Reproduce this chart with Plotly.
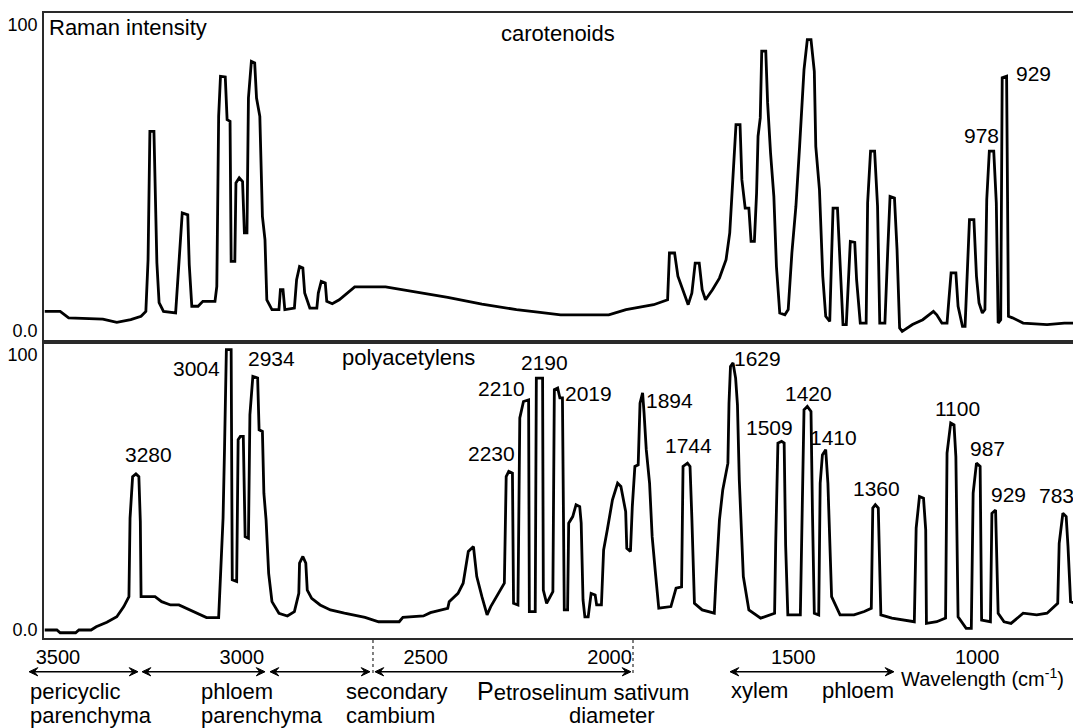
import plotly.graph_objects as go

# ---------------- data (wavenumber cm-1, relative Raman intensity) ----------------
top_wn = [3536, 3494, 3471, 3378, 3340, 3302, 3274, 3261, 3255, 3250,
          3239, 3231, 3225, 3213, 3180, 3171, 3162, 3147, 3143, 3136,
          3119, 3106, 3073, 3068, 3063, 3058, 3045, 3040, 3032, 3029,
          3019, 3016, 3007, 2998, 2993, 2986, 2982, 2974, 2965, 2960,
          2951, 2944, 2937, 2932, 2918, 2899, 2895, 2888, 2883, 2857,
          2851, 2843, 2834, 2829, 2815, 2796, 2792, 2784, 2773, 2769,
          2754, 2735, 2693, 2609, 2534, 2440, 2347, 2253, 2189, 2133,
          2002, 1955, 1880, 1842, 1837, 1823, 1814, 1786, 1776, 1767,
          1756, 1748, 1739, 1720, 1701, 1683, 1673, 1664, 1656, 1645,
          1640, 1631, 1621, 1615, 1606, 1600, 1596, 1590, 1586, 1575,
          1570, 1562, 1553, 1546, 1537, 1523, 1514, 1504, 1493, 1483,
          1471, 1462, 1452, 1443, 1439, 1429, 1420, 1412, 1401, 1396,
          1392, 1380, 1373, 1365, 1356, 1351, 1345, 1333, 1328, 1318,
          1302, 1298, 1290, 1279, 1271, 1265, 1251, 1243, 1237, 1225,
          1218, 1211, 1204, 1176, 1148, 1119, 1110, 1096, 1082, 1077,
          1071, 1058, 1052, 1040, 1033, 1027, 1021, 1009, 1002, 995,
          986, 979, 974, 967, 955, 948, 943, 936, 932, 920,
          915, 904, 875, 810, 763, 734]
top_int = [6.2, 6.2, 4.1, 3.7, 2.6, 3.5, 4.6, 6.2, 23.1, 65.1,
           65.1, 22.1, 9.1, 6.2, 5.7, 23.1, 38.4, 37.8, 21.5, 7.9,
           7.9, 9.5, 9.5, 14.4, 70, 83.1, 82.9, 68.9, 68.4, 22.6,
           22.6, 48.2, 49.9, 48.7, 31.9, 31.9, 76, 88, 87.5, 76,
           70, 37.3, 29.7, 10, 6.8, 6.8, 13.3, 13.3, 6.8, 7.3,
           16.6, 20.9, 20.4, 12.2, 7.3, 7.3, 12.2, 16, 15.5, 9.5,
           8.7, 10, 14.2, 14.2, 12.8, 10.8, 8.6, 6.8, 5.9, 5.1,
           5.1, 6.8, 8.4, 10, 25.3, 25.3, 17.7, 8.4, 12.2, 22,
           22, 13.3, 10, 13.3, 17.1, 23.1, 31.9, 49.3, 67.3, 67.3,
           49.3, 40, 40, 29.1, 29.1, 44.9, 63.5, 69.5, 91.3, 91.3,
           74.4, 58, 43.8, 20.9, 5.7, 5.1, 6.8, 25.3, 40.6, 60.2,
           85.3, 95.1, 95.1, 84.7, 60.2, 46, 17.7, 4.6, 2.9, 24.2,
           40, 40, 23.7, 1.9, 1.9, 16, 29.1, 28.8, 16.6, 2.4,
           2.4, 41.7, 58.6, 58.6, 40.6, 2.4, 2.4, 27, 43.8, 43.3,
           26.4, 0.8, -0.3, 1.9, 3.5, 6.2, 5.1, 2.4, 2.4, 10,
           18.8, 18.8, 7.9, 1.3, 1.3, 18.8, 36.2, 36.2, 17.7, 9,
           5.7, 6.8, 42.8, 58.6, 58.6, 41.7, 2.4, 3.5, 82.6, 83.1,
           4.6, 4.1, 2.4, 1.9, 2.4, 2.4]

bot_wn = [3536, 3503, 3494, 3452, 3443, 3410, 3396, 3367, 3340, 3321,
          3307, 3304, 3297, 3288, 3280, 3276, 3274, 3236, 3218, 3194,
          3171, 3134, 3096, 3063, 3059, 3051, 3047, 3042, 3029, 3026,
          3014, 3010, 3004, 2996, 2991, 2982, 2978, 2970, 2957, 2953,
          2944, 2940, 2934, 2927, 2918, 2899, 2876, 2857, 2845, 2843,
          2834, 2826, 2822, 2810, 2787, 2759, 2721, 2665, 2628, 2572,
          2562, 2506, 2487, 2440, 2436, 2412, 2398, 2384, 2370, 2361,
          2347, 2333, 2323, 2305, 2286, 2281, 2274, 2264, 2261, 2249,
          2244, 2234, 2220, 2218, 2202, 2199, 2189, 2182, 2180, 2171,
          2154, 2150, 2141, 2135, 2128, 2123, 2114, 2111, 2100, 2091,
          2081, 2077, 2072, 2067, 2058, 2050, 2039, 2035, 2022, 2016,
          2006, 1992, 1978, 1969, 1956, 1953, 1943, 1938, 1931, 1922,
          1917, 1910, 1906, 1900, 1891, 1884, 1875, 1866, 1833, 1819,
          1804, 1800, 1788, 1781, 1776, 1769, 1748, 1715, 1711, 1701,
          1692, 1678, 1675, 1671, 1664, 1657, 1652, 1647, 1636, 1621,
          1589, 1560, 1551, 1548, 1542, 1532, 1525, 1521, 1515, 1481,
          1476, 1471, 1462, 1452, 1448, 1443, 1431, 1427, 1421, 1412,
          1406, 1396, 1373, 1335, 1307, 1288, 1284, 1277, 1269, 1262,
          1232, 1171, 1166, 1157, 1146, 1140, 1138, 1110, 1086, 1082,
          1072, 1063, 1058, 1052, 1030, 1016, 1011, 1002, 992, 988,
          964, 960, 950, 943, 927, 908, 875, 838, 810, 781,
          777, 767, 758, 753, 746, 734]
bot_int = [0, 0, -1, -1, 0, 0, 1.2, 2.8, 4.8, 8.5,
           12.1, 40.6, 55.7, 56.7, 55.7, 39.4, 12.1, 12.1, 10.3, 9.1,
           9.1, 6.7, 4.5, 4.5, 15.2, 40.6, 66.1, 101.8, 101.8, 18.2,
           17.6, 69.1, 70.3, 70.3, 33.9, 33.3, 78.2, 92.1, 91.5, 72.7,
           72.1, 49.7, 40, 20.6, 10.3, 6.1, 5.1, 6.7, 13.3, 24.3,
           26.7, 24.3, 14.5, 11.5, 9.1, 7.3, 6.1, 4.6, 3, 3,
           4.6, 5.1, 6.3, 7.9, 10.3, 13.3, 17, 28.5, 30.3, 19.4,
           12.1, 5.5, 8.5, 12.7, 17, 55.7, 57.6, 57, 9.7, 9.1,
           77, 83, 83.6, 6.7, 6.7, 91.5, 91.5, 91.5, 14.5, 9.7,
           13.9, 87.3, 87.9, 84.3, 84.3, 7.3, 7.3, 38.8, 41.2, 45.5,
           44.8, 38.8, 10.9, 4.8, 4.8, 13.3, 12.7, 9.1, 9.1, 29.1,
           36.4, 47.3, 53.3, 52.1, 43, 29.7, 28.5, 44.8, 59.4, 60,
           82.4, 86.1, 78.8, 65.5, 53.3, 33.9, 20.6, 7.9, 8.5, 15.2,
           15.7, 59.4, 60.6, 59.4, 40.6, 9.7, 7.3, 6.1, 17, 40,
           50.9, 60.6, 82.4, 95.7, 97, 91.5, 81.8, 54.5, 19.4, 7.3,
           4.3, 5.5, 6.1, 31.5, 67.9, 68.5, 67.9, 30.9, 5.5, 5.5,
           42.4, 80, 81.2, 79.4, 42.4, 6.1, 5.5, 53.3, 63.6, 65.5,
           53.3, 12.1, 5.5, 5.5, 6.7, 7.9, 44.3, 45.5, 44.3, 5.5,
           4.3, 3, 37, 48.5, 47.9, 36.4, 2.4, 3, 4.3, 64.3,
           75.2, 74.5, 63, 4.8, 0.6, 0.6, 49.7, 60.6, 59.4, 3.6,
           3, 42.4, 43.6, 6.1, 3, 2.4, 6.1, 5.5, 6.1, 9.7,
           31.5, 42.4, 41.2, 30.3, 10.3, 9.7]

assert len(top_wn) == len(top_int), (len(top_wn), len(top_int))
assert len(bot_wn) == len(bot_int), (len(bot_wn), len(bot_int))

# peak labels (text, label position in wavenumber / intensity)
top_peak_text = ["978", "929"]
top_peak_wn = [988, 846]
top_peak_int = [63.7, 84]

bot_peak_text = ["3280", "3004", "2934", "2230", "2210", "2190", "2019", "1894", "1744",
                 "1629", "1509", "1420", "1410", "1360", "1100", "987", "929", "783"]
bot_peak_wn = [3255, 3122, 2918, 2322, 2295, 2177, 2057, 1836, 1784,
               1598, 1565, 1458, 1390, 1273, 1054, 973, 916, 784]
bot_peak_int = [63.6, 94.9, 98.5, 64, 87.6, 97.1, 85.8, 83.3, 66.9,
                98.5, 73.6, 85.8, 70, 51.3, 80.4, 65.8, 49.1, 48.7]

x_ticks = [3500, 3000, 2500, 2000, 1500, 1000]
y_ticks = [0, 100]
y_ticktext = ["0.0", "100"]

# ---------------- figure ----------------
# the page body adds an 8 px offset, so the figure is 8 px smaller than the window
FONT = "Liberation Sans, Arial, sans-serif"
LINE = dict(color="black", width=2.8)
FRAME = "#2a2a2a"

fig = go.Figure()
fig.add_trace(go.Scatter(x=top_wn, y=top_int, mode="lines", line=LINE,
                         xaxis="x", yaxis="y", showlegend=False, hoverinfo="skip"))
fig.add_trace(go.Scatter(x=bot_wn, y=bot_int, mode="lines", line=LINE,
                         xaxis="x2", yaxis="y2", showlegend=False, hoverinfo="skip"))

XR = [3538, 734]
split = 296 / 625

axis_common = dict(showline=True, mirror=True, linecolor=FRAME, linewidth=1.5,
                   showgrid=False, zeroline=False, ticks="", automargin=False)

fig.update_layout(
    width=1073, height=720,
    margin=dict(l=36, r=6, t=5, b=90, autoexpand=False),
    paper_bgcolor="white", plot_bgcolor="white",
    font=dict(family=FONT, size=21, color="black"),
    xaxis=dict(domain=[0, 1], anchor="y", range=XR, showticklabels=False, **axis_common),
    yaxis=dict(domain=[split, 1], anchor="x", range=[-3.8, 103.8],
               tickvals=y_ticks, ticktext=y_ticktext, tickfont=dict(size=18),
               ticklabelstandoff=1, **axis_common),
    xaxis2=dict(domain=[0, 1], anchor="y2", range=XR, matches="x",
                tickvals=x_ticks, ticktext=[str(t) for t in x_ticks],
                tickfont=dict(size=20), ticklabelstandoff=0, **axis_common),
    yaxis2=dict(domain=[0, split], anchor="x2", range=[-2.9, 104.6],
                tickvals=y_ticks, ticktext=y_ticktext, tickfont=dict(size=18),
                ticklabelstandoff=1, **axis_common),
)

ann = []
# panel titles
ann.append(dict(text="Raman intensity", xref="paper", yref="paper", x=0.0029, y=0.9768,
                xanchor="left", yanchor="middle", showarrow=False, font=dict(size=22)))
ann.append(dict(text="carotenoids", xref="paper", yref="paper", x=0.4981, y=0.968,
                xanchor="center", yanchor="middle", showarrow=False, font=dict(size=22)))
ann.append(dict(text="polyacetylens", xref="paper", yref="paper", x=0.354, y=0.4496,
                xanchor="center", yanchor="middle", showarrow=False, font=dict(size=22)))

for t, xw, yi in zip(top_peak_text, top_peak_wn, top_peak_int):
    ann.append(dict(text=t, x=xw, y=yi, xref="x", yref="y", showarrow=False,
                    xanchor="center", yanchor="middle", font=dict(size=21)))
for t, xw, yi in zip(bot_peak_text, bot_peak_wn, bot_peak_int):
    ann.append(dict(text=t, x=xw, y=yi, xref="x2", yref="y2", showarrow=False,
                    xanchor="center", yanchor="middle", font=dict(size=21)))

# region labels under the axis
row1, row2 = -0.0854, -0.1238
labels = [
    ("pericyclic", -0.0155, row1, "left"), ("parenchyma", -0.0155, row2, "left"),
    ("phloem", 0.1503, row1, "left"), ("parenchyma", 0.1503, row2, "left"),
    ("secondary", 0.291, row1, "left"), ("cambium", 0.291, row2, "left"),
    ("<span style='font-size:25px'>P</span>etroselinum sativum", 0.418, row1, "left"),
    ("diameter", 0.5509, row2, "center"),
    ("xylem", 0.6644, -0.0838, "left"), ("phloem", 0.7527, -0.0838, "left"),
]
for t, xp, yp, xa in labels:
    ann.append(dict(text=t, xref="paper", yref="paper", x=xp, y=yp, xanchor=xa,
                    yanchor="middle", showarrow=False, font=dict(size=22)))
ann.append(dict(text="Wavelength (cm<sup>-1</sup>)", xref="paper", yref="paper",
                x=0.8293, y=-0.0625, xanchor="left", yanchor="middle",
                showarrow=False, font=dict(size=20)))

fig.update_layout(annotations=ann)

# double-headed arrows under the axis (paper x of left and right ends)
arrow_y = -0.054
dx, dy = 0.0085, 0.0066
for x0, x1 in [(-0.0145, 0.0912), (0.0951, 0.2144), (0.2192, 0.3162),
               (0.3210, 0.5693), (0.6654, 0.8244)]:
    fig.add_shape(type="line", xref="paper", yref="paper", x0=x0 + 0.004, x1=x1 - 0.004,
                  y0=arrow_y, y1=arrow_y, line=dict(color="black", width=1.6))
    fig.add_shape(type="path", xref="paper", yref="paper",
                  path=f"M {x0} {arrow_y} L {x0 + dx} {arrow_y + dy} L {x0 + dx*0.6} {arrow_y} "
                       f"L {x0 + dx} {arrow_y - dy} Z",
                  fillcolor="black", line=dict(color="black", width=1))
    fig.add_shape(type="path", xref="paper", yref="paper",
                  path=f"M {x1} {arrow_y} L {x1 - dx} {arrow_y + dy} L {x1 - dx*0.6} {arrow_y} "
                       f"L {x1 - dx} {arrow_y - dy} Z",
                  fillcolor="black", line=dict(color="black", width=1))

# dashed boundary markers
for xp in [0.3191, 0.5713]:
    fig.add_shape(type="line", xref="paper", yref="paper", x0=xp, x1=xp, y0=-0.0032, y1=-0.0592,
                  line=dict(color="black", width=1, dash="dot"))

fig.write_html("out.html")
